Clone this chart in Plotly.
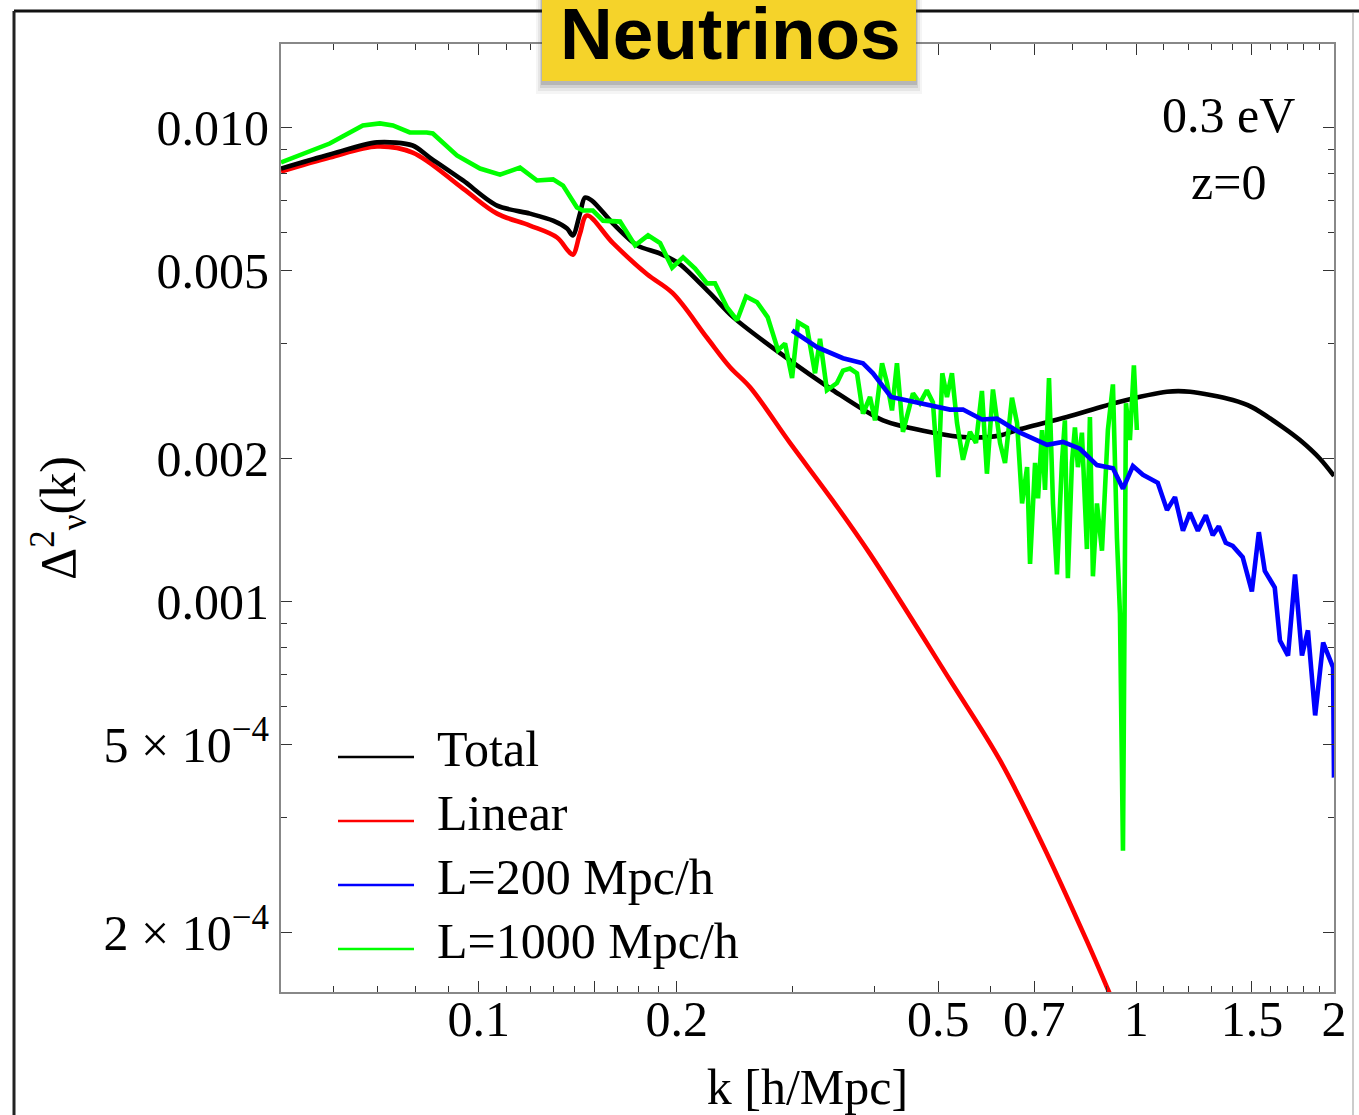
import plotly.graph_objects as go

# ---------------- data ----------------
k_total = [0.05, 0.0593, 0.0700, 0.0793, 0.0842, 0.0946, 0.1066, 0.1196, 0.1297, 0.1362,
           0.1390, 0.1425, 0.1450, 0.1486, 0.1600, 0.1741, 0.1887, 0.2021, 0.2247, 0.2437,
           0.2872, 0.3457, 0.4120, 0.4913, 0.5529, 0.6208, 0.6589, 0.7846, 0.9350, 1.114,
           1.208, 1.403, 1.5, 1.673, 1.775, 1.904, 2.0]
d_total = [0.00819, 0.00877, 0.00930, 0.00916, 0.00864, 0.00773, 0.00684, 0.00658, 0.00636, 0.00612,
           0.00592, 0.00658, 0.00711, 0.00701, 0.00627, 0.00564, 0.00542, 0.00515, 0.00447, 0.00398,
           0.00334, 0.00279, 0.00241, 0.00227, 0.00222, 0.00224, 0.00230, 0.00245, 0.00263, 0.00277,
           0.00277, 0.00266, 0.00257, 0.00233, 0.00219, 0.00200, 0.00184]

k_linear = [0.05, 0.0593, 0.0700, 0.0793, 0.0946, 0.1066, 0.1196, 0.1315, 0.1366, 0.1390,
            0.1425, 0.1460, 0.1600, 0.1803, 0.1972, 0.2224, 0.2411, 0.2586, 0.2974, 0.3457,
            0.3936, 0.5215, 0.6208, 0.7199, 0.8417, 0.9092, 0.9416]
d_linear = [0.00807, 0.00864, 0.00912, 0.00885, 0.00743, 0.00658, 0.00621, 0.00586, 0.00550, 0.00539,
            0.00597, 0.00652, 0.00570, 0.00490, 0.00447, 0.00360, 0.00312, 0.00283, 0.00216, 0.00163,
            0.00126, 0.000681, 0.000462, 0.000308, 0.000192, 0.000150, 0.0001335]

k_L200 = [0.2996, 0.3270, 0.3581, 0.3841, 0.3978, 0.4237, 0.4640, 0.5209, 0.5452, 0.5826,
          0.6143, 0.6659, 0.7318, 0.7737, 0.8213, 0.8717, 0.9219, 0.9549, 0.9888, 1.0240,
          1.0787, 1.1142, 1.1457, 1.1783, 1.2073, 1.2414, 1.2765, 1.3081, 1.3358, 1.3688,
          1.4026, 1.4524, 1.5, 1.5370, 1.5695, 1.6252, 1.655, 1.7025, 1.7447, 1.7877,
          1.8255, 1.8723, 1.9254, 1.9728, 1.9935, 2.0]
d_L200 = [0.00373, 0.00344, 0.00326, 0.00318, 0.00303, 0.00270, 0.00263, 0.00254, 0.00254, 0.00242,
          0.00243, 0.00227, 0.00214, 0.00217, 0.00210, 0.00194, 0.00191, 0.00173, 0.00193, 0.00185,
          0.00178, 0.00156, 0.00166, 0.00141, 0.00154, 0.00141, 0.00152, 0.00138, 0.00144, 0.00133,
          0.00131, 0.00124, 0.00105, 0.00140, 0.00116, 0.00107, 0.000827, 0.000769, 0.00114, 0.000769,
          0.000869, 0.000575, 0.000819, 0.000751, 0.000726, 0.000425]

k_L1000 = [0.05, 0.0593, 0.0666, 0.0707, 0.0740, 0.0785, 0.0833, 0.0851, 0.0926, 0.1004,
           0.1077, 0.1155, 0.1226, 0.1297, 0.1343, 0.1410, 0.1440, 0.1491, 0.1545, 0.1640,
           0.1729, 0.1809, 0.1887, 0.1968, 0.2045, 0.2133, 0.2224, 0.2287, 0.2386, 0.2471,
           0.2550, 0.2650, 0.2750, 0.2852, 0.2923, 0.2996, 0.3059, 0.3157, 0.3247, 0.3304,
           0.3385, 0.3506, 0.3581, 0.3670, 0.3761, 0.3841, 0.3936, 0.4006, 0.4106, 0.4178,
           0.4252, 0.4326, 0.4418, 0.4576, 0.4689, 0.4804, 0.4907, 0.5000, 0.5071, 0.5155,
           0.5245, 0.5339, 0.5452, 0.5587, 0.5706, 0.5826, 0.5929, 0.6055, 0.6208, 0.6317,
           0.6473, 0.6589, 0.6706, 0.6825, 0.6896, 0.7018, 0.7092, 0.7191, 0.7267, 0.7369,
           0.7473, 0.7577, 0.7710, 0.7791, 0.7873, 0.7985, 0.8070, 0.8155, 0.8270, 0.8416,
           0.8505, 0.8595, 0.8717, 0.8872, 0.9058, 0.9219, 0.9350, 0.9449, 0.9549, 0.9650,
           0.9784, 0.9922, 1.0026]
d_L1000 = [0.00844, 0.00925, 0.01010, 0.01020, 0.01010, 0.00976, 0.00976, 0.00971, 0.00873, 0.00819,
           0.00795, 0.00823, 0.00773, 0.00777, 0.00754, 0.00678, 0.00668, 0.00668, 0.00636, 0.00633,
           0.00564, 0.00592, 0.00570, 0.00506, 0.00532, 0.00504, 0.00469, 0.00469, 0.00417, 0.00392,
           0.00440, 0.00428, 0.00398, 0.00339, 0.00350, 0.00296, 0.00388, 0.00378, 0.00303, 0.00358,
           0.00279, 0.00289, 0.00307, 0.00310, 0.00303, 0.00249, 0.00270, 0.00241, 0.00318, 0.00289,
           0.00253, 0.00318, 0.00228, 0.00275, 0.00262, 0.00279, 0.00263, 0.00183, 0.00303, 0.00270,
           0.00303, 0.00238, 0.00199, 0.00228, 0.00216, 0.00278, 0.00186, 0.00280, 0.00216, 0.00196,
           0.00269, 0.00238, 0.00161, 0.00192, 0.00120, 0.00196, 0.00165, 0.00230, 0.00172, 0.00296,
           0.00161, 0.00114, 0.00196, 0.00241, 0.00112, 0.00196, 0.00233, 0.00192, 0.00227, 0.00129,
           0.00245, 0.00113, 0.00161, 0.00128, 0.00230, 0.00287, 0.00136, 0.000944, 0.000298, 0.00262,
           0.00219, 0.00315, 0.00230]

x_major = [0.1, 0.15, 0.2, 0.5, 0.7, 1, 1.5, 2]
x_major_text = ["0.1", "", "0.2", "0.5", "0.7", "1", "1.5", "2"]
x_minor = [0.06, 0.07, 0.08, 0.09, 0.11, 0.12, 0.13, 0.14, 0.1625, 0.175, 0.1875,
           0.3, 0.4, 0.6, 0.8, 0.9, 1.1, 1.2, 1.3, 1.4, 1.6, 1.7, 1.8, 1.9]
y_major = [0.01, 0.005, 0.002, 0.001, 0.0005, 0.0002]
y_major_text = ["0.010", "0.005", "0.002", "0.001", "5 × 10<sup>−4</sup>", "2 × 10<sup>−4</sup>"]
y_minor = [0.009, 0.008, 0.007, 0.006, 0.0035, 0.0009, 0.0008, 0.0007, 0.0006, 0.00035]

series_names = ["Total", "Linear", "L=200 Mpc/h", "L=1000 Mpc/h"]
series_colors = ["#000000", "#FF0000", "#0000FF", "#00FF00"]

# ---------------- layout geometry ----------------
W, H = 1359, 1115
L, R, T, B = 281, 1334, 44, 992


def px(x):
    return (x - L) / (R - L)


def py(y):
    return (B - y) / (B - T)


SERIF = "Liberation Serif, Times New Roman, serif"
FS = 50
LW = 4.6

fig = go.Figure()
fig.add_trace(go.Scatter(x=k_linear, y=d_linear, mode="lines", name=series_names[1],
                         line=dict(color=series_colors[1], width=LW, shape="spline", smoothing=1.0)))
fig.add_trace(go.Scatter(x=k_total, y=d_total, mode="lines", name=series_names[0],
                         line=dict(color=series_colors[0], width=LW, shape="spline", smoothing=0.8)))
fig.add_trace(go.Scatter(x=k_L1000, y=d_L1000, mode="lines", name=series_names[3],
                         line=dict(color=series_colors[3], width=LW)))
fig.add_trace(go.Scatter(x=k_L200, y=d_L200, mode="lines", name=series_names[2],
                         line=dict(color=series_colors[2], width=LW)))

axis_common = dict(
    type="log", showgrid=False, zeroline=False, automargin=False,
    showline=True, linecolor="#888888", linewidth=2, mirror="ticks",
    ticks="inside", ticklen=11, tickwidth=1.3, tickcolor="#333333",
    tickfont=dict(family=SERIF, size=FS, color="black"),
    tickmode="array",
)

fig.update_xaxes(**axis_common, range=[-1.30103, 0.30103],
                 tickvals=x_major, ticktext=x_major_text, ticklabelstandoff=-18,
                 minor=dict(tickmode="array", tickvals=x_minor, ticks="inside",
                            ticklen=6, tickwidth=1.2, tickcolor="#333333"),
                 title=dict(text="k [h/Mpc]", font=dict(family=SERIF, size=FS, color="black"),
                            standoff=32))
fig.update_yaxes(**axis_common, range=[-3.82391, -1.82391],
                 tickvals=y_major, ticktext=y_major_text,
                 minor=dict(tickmode="array", tickvals=y_minor, ticks="inside",
                            ticklen=6, tickwidth=1.2, tickcolor="#333333"),
                 title=dict(text="Δ<sup>2</sup><sub>ν</sub>(k)",
                            font=dict(family=SERIF, size=FS, color="black"),
                            standoff=12))

shapes = []
# outer frame
shapes.append(dict(type="line", xref="paper", yref="paper", x0=px(14), x1=px(1359), y0=py(11), y1=py(11),
                   line=dict(color="#111111", width=3), layer="above"))
shapes.append(dict(type="line", xref="paper", yref="paper", x0=px(14), x1=px(14), y0=py(11), y1=py(1115),
                   line=dict(color="#222222", width=3), layer="above"))
shapes.append(dict(type="line", xref="paper", yref="paper", x0=px(1353), x1=px(1353), y0=py(13), y1=py(1115),
                   line=dict(color="#BBBBBB", width=1.5), layer="above"))
# title box shadow + box
for dx, dy, op in [(6, 13, 0.05), (4, 10, 0.08), (2, 7, 0.12), (1, 4, 0.18)]:
    shapes.append(dict(type="rect", xref="paper", yref="paper",
                       x0=px(542 - dx), x1=px(916 + dx), y0=py(81 + dy), y1=py(-5),
                       fillcolor=f"rgba(60,60,60,{op})", line=dict(width=0), layer="above"))
shapes.append(dict(type="rect", xref="paper", yref="paper", x0=px(542), x1=px(916), y0=py(81), y1=py(-5),
                   fillcolor="#F5D32A", line=dict(width=0), layer="above"))

# legend (drawn manually to match the reference layout)
legend_rows = [757, 821, 885, 949]
legend_order = [0, 1, 2, 3]
annotations = []
for row_y, idx in zip(legend_rows, legend_order):
    shapes.append(dict(type="line", xref="paper", yref="paper", x0=px(338), x1=px(414),
                       y0=py(row_y), y1=py(row_y),
                       line=dict(color=series_colors[idx], width=2.5), layer="above"))
    annotations.append(dict(xref="paper", yref="paper", x=px(435), y=py(row_y - 8),
                            xanchor="left", yanchor="middle", showarrow=False,
                            text=series_names[idx], font=dict(family=SERIF, size=FS, color="black")))

annotations.append(dict(xref="paper", yref="paper", x=px(730), y=py(33), xanchor="center", yanchor="middle",
                        showarrow=False, text="<b>Neutrinos</b>",
                        font=dict(family="Liberation Sans, Arial, sans-serif", size=73, color="black")))
annotations.append(dict(xref="paper", yref="paper", x=px(1228), y=py(115), xanchor="center", yanchor="middle",
                        showarrow=False, text="0.3 eV", font=dict(family=SERIF, size=FS, color="black")))
annotations.append(dict(xref="paper", yref="paper", x=px(1228), y=py(182), xanchor="center", yanchor="middle",
                        showarrow=False, text="z=0", font=dict(family=SERIF, size=FS, color="black")))

fig.update_layout(
    width=W, height=H, autosize=False,
    margin=dict(l=L, r=W - R, t=T, b=H - B, pad=0),
    paper_bgcolor="white", plot_bgcolor="white",
    showlegend=False,
    shapes=shapes, annotations=annotations,
)

fig.write_html("out.html")
